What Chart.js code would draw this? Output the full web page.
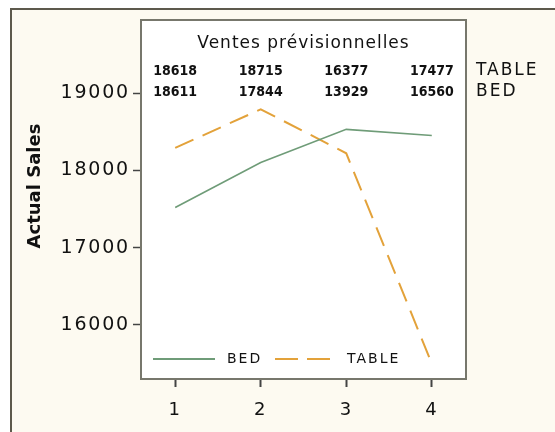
<!DOCTYPE html>
<html>
<head>
<meta charset="utf-8">
<script src="https://cdn.jsdelivr.net/npm/chart.js@4.4.1/dist/chart.umd.min.js"></script>
<style>
html,body{margin:0;padding:0;background:#ffffff;}
#wrap{width:555px;height:432px;position:relative;}
</style>
</head>
<body>
<div id="wrap"><canvas id="c" width="555" height="432"></canvas></div>
<script>
const categories = [1, 2, 3, 4];
const bedSales = [17520, 18100, 18530, 18450];
const tableSales = [18290, 18790, 18220, 15500];
const tableForecast = [18618, 18715, 16377, 17477];
const bedForecast = [18611, 17844, 13929, 16560];
const yTicks = [16000, 17000, 18000, 19000];
const forecastTitle = 'Ventes prévisionnelles';
const yTitle = 'Actual Sales';

const GREEN = '#6f9c78';
const ORANGE = '#e3a23a';

const decor = {
  id: 'decor',
  beforeDraw(chart) {
    const ctx = chart.ctx;
    ctx.save();
    ctx.fillStyle = '#ffffff';
    ctx.fillRect(0, 0, 555, 432);
    ctx.fillStyle = '#fdfaf1';
    ctx.fillRect(11, 9, 544, 423);
    const a = chart.chartArea;
    ctx.fillStyle = '#ffffff';
    ctx.fillRect(a.left, a.top, a.right - a.left, a.bottom - a.top);
    ctx.strokeStyle = '#5d594c';
    ctx.lineWidth = 2;
    ctx.beginPath();
    ctx.moveTo(11, 432); ctx.lineTo(11, 9); ctx.lineTo(555, 9);
    ctx.stroke();
    ctx.restore();
    ctx.letterSpacing = '1.8px';
  },
  beforeDatasetsDraw(chart) {
    chart.ctx.letterSpacing = '0px';
  },
  afterDraw(chart) {
    const ctx = chart.ctx;
    const a = chart.chartArea;
    const xs = chart.scales.x;
    ctx.save();
    // plot border
    ctx.strokeStyle = '#77776c';
    ctx.lineWidth = 2;
    ctx.strokeRect(a.left, a.top, a.right - a.left, a.bottom - a.top);
    // title inside
    ctx.fillStyle = '#111';
    ctx.textAlign = 'center';
    ctx.textBaseline = 'middle';
    ctx.font = '17px "DejaVu Sans"';
    ctx.letterSpacing = '1px';
    ctx.fillText(forecastTitle, (a.left + a.right) / 2, 44);
    ctx.letterSpacing = '0px';
    ctx.font = 'bold 14px "DejaVu Sans Condensed", "DejaVu Sans"';
    categories.forEach((c, i) => {
      const px = xs.getPixelForValue(c);
      ctx.fillText(String(tableForecast[i]), px, 71);
      ctx.fillText(String(bedForecast[i]), px, 92);
    });
    ctx.textAlign = 'left';
    ctx.font = '17px "DejaVu Sans"';
    ctx.letterSpacing = '2px';
    ctx.fillText(chart.data.datasets[1].label, 476, 71);
    ctx.fillText(chart.data.datasets[0].label, 476, 92);
    // y title
    ctx.letterSpacing = '0px';
    ctx.save();
    ctx.translate(35, 186);
    ctx.rotate(-Math.PI / 2);
    ctx.textAlign = 'center';
    ctx.font = 'bold 18px "DejaVu Sans"';
    ctx.fillText(yTitle, 0, 0);
    ctx.restore();
    // legend inside
    const ly = 359;
    const ds = chart.data.datasets;
    ctx.lineWidth = 2;
    ctx.strokeStyle = ds[0].borderColor;
    ctx.setLineDash([]);
    ctx.beginPath(); ctx.moveTo(153, ly); ctx.lineTo(215, ly); ctx.stroke();
    ctx.font = '14px "DejaVu Sans"';
    ctx.letterSpacing = '2px';
    ctx.fillStyle = '#111';
    ctx.fillText(ds[0].label, 227, ly);
    ctx.strokeStyle = ds[1].borderColor;
    ctx.setLineDash([23, 9]);
    ctx.beginPath(); ctx.moveTo(275, ly); ctx.lineTo(333, ly); ctx.stroke();
    ctx.setLineDash([]);
    ctx.fillText(ds[1].label, 347, ly);
    ctx.restore();
  }
};

new Chart(document.getElementById('c'), {
  type: 'line',
  data: {
    datasets: [
      { label: 'BED', data: categories.map((c, i) => ({x: c, y: bedSales[i]})),
        borderColor: GREEN, borderWidth: 1.6, pointRadius: 0, tension: 0, fill: false },
      { label: 'TABLE', data: categories.map((c, i) => ({x: c, y: tableSales[i]})),
        borderColor: ORANGE, borderWidth: 2, borderDash: [20, 10], pointRadius: 0, tension: 0, fill: false }
    ]
  },
  options: {
    responsive: false,
    animation: false,
    events: [],
    layout: { padding: { left: 0, top: 20, right: 89, bottom: 0 } },
    plugins: { legend: { display: false }, tooltip: { enabled: false }, title: { display: false } },
    scales: {
      x: {
        type: 'linear', min: 0.6, max: 4.4,
        afterBuildTicks(s) { s.ticks = categories.map(v => ({value: v})); },
        afterFit(s) { s.height = 53; },
        grid: { display: true, drawOnChartArea: false, drawTicks: true, tickLength: 8, color: '#444', tickColor: '#444', tickWidth: 2 },
        border: { display: false },
        ticks: { color: '#111', font: { family: 'DejaVu Sans', size: 18 }, padding: 13, maxRotation: 0 }
      },
      y: {
        type: 'linear', min: 15300, max: 19945,
        afterBuildTicks(s) { s.ticks = yTicks.map(v => ({value: v})); },
        afterFit(s) { s.width = 141; },
        grid: { display: true, drawOnChartArea: false, drawTicks: true, tickLength: 8, color: '#444', tickColor: '#444', tickWidth: 1.5 },
        border: { display: false },
        ticks: { color: '#111', font: { family: 'DejaVu Sans', size: 19 }, padding: 3, callback: v => String(v) }
      }
    }
  },
  plugins: [decor]
});
</script>
</body>
</html>
